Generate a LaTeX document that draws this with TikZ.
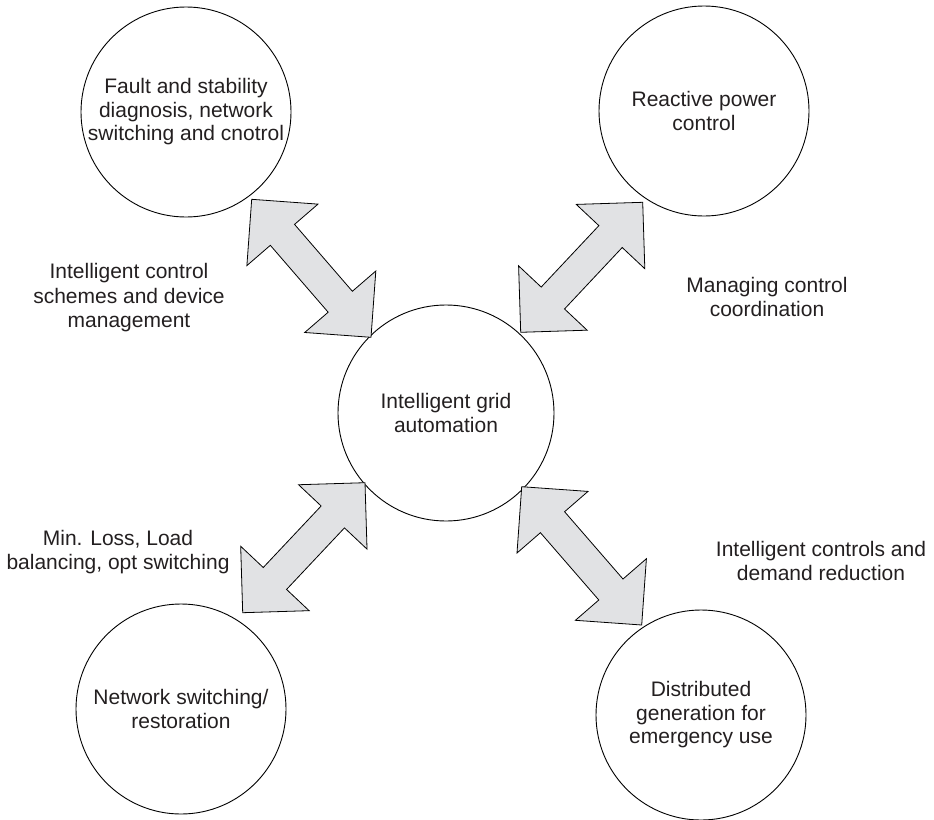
\documentclass[tikz,border=0pt]{standalone}
\usepackage{fontspec}
\setmainfont{Liberation Sans}
\usetikzlibrary{calc}
\definecolor{txt}{HTML}{231F20}
\definecolor{arrfill}{HTML}{E1E2E4}
\newcommand{\blockarrow}[2]{%
  \coordinate (h1) at ($(#1)!47pt!(#2)$);
  \coordinate (h2) at ($(#2)!47pt!(#1)$);
  \draw[barrow] (#1) -- ($(h1)!47pt!90:(#2)$) -- ($(h1)!16pt!90:(#2)$)
    -- ($(h2)!16pt!-90:(#1)$) -- ($(h2)!47pt!-90:(#1)$) -- (#2)
    -- ($(h2)!47pt!90:(#1)$) -- ($(h2)!16pt!90:(#1)$)
    -- ($(h1)!16pt!-90:(#2)$) -- ($(h1)!47pt!-90:(#2)$) -- cycle;
}
\begin{document}
\begin{tikzpicture}[x=1pt,y=-1pt,
  bubble/.style={circle,draw=black,line width=0.9pt,minimum size=210pt,inner sep=0pt,
    align=center,text=txt,font=\fontsize{21}{23.5}\selectfont},
  lab/.style={align=center,text=txt,font=\fontsize{21}{24.5}\selectfont,inner sep=0pt},
  barrow/.style={draw=black,line width=0.8pt,fill=arrfill,line join=miter}]
\useasboundingbox (0,0) rectangle (934,819);
\node[bubble,minimum size=216pt] (c) at (446,413) {Intelligent grid\\automation};
\node[bubble] (tl) at (186,112) {Fault and stability\\diagnosis, network\\switching and cnotrol};
\node[bubble] (tr) at (704,111) {Reactive power\\control};
\node[bubble] (bl) at (181,709) {Network switching/\\restoration};
\node[bubble] (br) at (701,715) {Distributed\\generation for\\emergency use};
\coordinate (a1s) at (251.7,199.3);
\coordinate (a1e) at (371,337.3);
\coordinate (a2s) at (642.7,202.3);
\coordinate (a2e) at (520.7,332.3);
\coordinate (a3s) at (365,482.7);
\coordinate (a3e) at (242.7,612.7);
\coordinate (a4s) at (521.7,486.7);
\coordinate (a4e) at (641.7,625);
\blockarrow{a1s}{a1e}
\blockarrow{a2s}{a2e}
\blockarrow{a3s}{a3e}
\blockarrow{a4s}{a4e}
\node[lab] (l1) at (129,298) {Intelligent control\\schemes and device\\management};
\node[lab] (l2) at (767,297) {Managing control\\coordination};
\node[lab] (l3) at (118,552) {Min. Loss, Load\\balancing, opt switching};
\node[lab] (l4) at (821,561) {Intelligent controls and\\demand reduction};
\end{tikzpicture}
\end{document}
